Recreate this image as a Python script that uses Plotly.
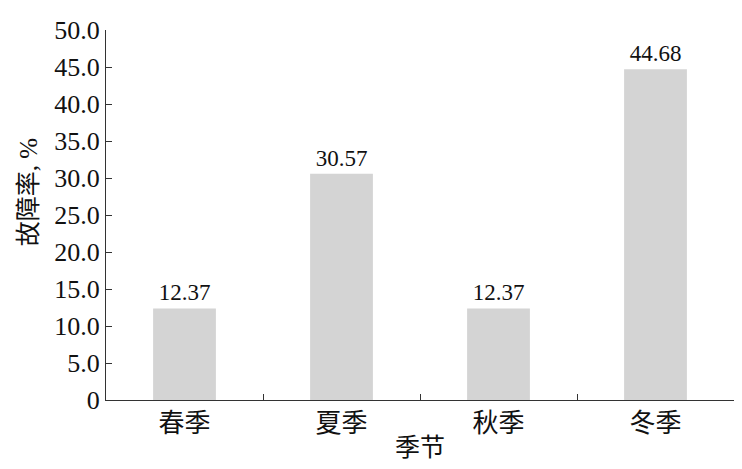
import plotly.graph_objects as go

seasons = ["春季", "夏季", "秋季", "冬季"]
failure_rate = [12.37, 30.57, 12.37, 44.68]
y_ticks = [0, 5, 10, 15, 20, 25, 30, 35, 40, 45, 50]
y_tick_text = ["0"] + [f"{v:.1f}" for v in y_ticks[1:]]

FONT = "Liberation Serif, Times New Roman, Noto Sans CJK SC, serif"

# the page keeps its 8px body margin, so the figure is drawn a bit smaller
fig = go.Figure(
    go.Bar(
        x=seasons,
        y=failure_rate,
        width=0.4,
        marker=dict(color="#d4d4d4", line=dict(width=0)),
        text=[f"{v:.2f}" for v in failure_rate],
        textposition="outside",
        textfont=dict(family=FONT, size=23, color="#111"),
        cliponaxis=False,
    )
)

fig.update_layout(
    width=726,
    height=453,
    margin=dict(l=98, r=0, t=22, b=61, autoexpand=False),
    plot_bgcolor="white",
    paper_bgcolor="white",
    font=dict(family=FONT, size=26, color="#111"),
    showlegend=False,
    annotations=[
        dict(
            text="故障率, %",
            textangle=-90,
            xref="paper",
            yref="paper",
            x=-0.124,
            y=0.562,
            xanchor="center",
            yanchor="middle",
            showarrow=False,
            font=dict(size=25),
        )
    ],
)

fig.update_xaxes(
    automargin=False,
    showline=True,
    linecolor="#333",
    linewidth=1.2,
    ticks="inside",
    ticklen=6,
    tickcolor="#333",
    tickson="boundaries",
    tickfont=dict(size=26),
    title=dict(text="季节", font=dict(size=25), standoff=2),
)

fig.update_yaxes(
    automargin=False,
    range=[0, 50],
    tickvals=y_ticks,
    ticktext=y_tick_text,
    showline=True,
    linecolor="#333",
    linewidth=1.2,
    ticks="inside",
    ticklen=6,
    tickcolor="#333",
    showgrid=False,
    zeroline=False,
    tickfont=dict(size=26),
)

fig.write_html("out.html")
